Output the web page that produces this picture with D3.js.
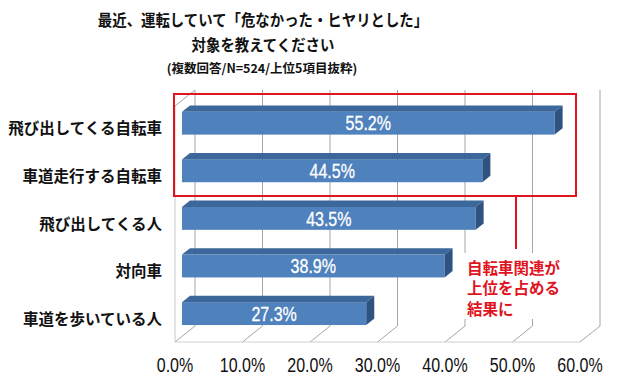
<!DOCTYPE html>
<html>
<head>
<meta charset="utf-8">
<script src="https://cdn.jsdelivr.net/npm/d3@7"></script>
<style>
  body { margin: 0; background: #fff; }
  .jp { font-family: "Noto Sans CJK JP", sans-serif; font-weight: bold; }
  .num { font-family: "Liberation Sans", Arial, sans-serif; }
</style>
</head>
<body>
<svg id="chart" width="640" height="380"></svg>
<script>
// values
const categories = ["飛び出してくる自転車", "車道走行する自転車", "飛び出してくる人", "対向車", "車道を歩いている人"];
const values = [55.2, 44.5, 43.5, 38.9, 27.3];
const ticks = [0, 10, 20, 30, 40, 50, 60];
const titleLines = ["最近、運転していて「危なかった・ヒヤリとした」", "対象を教えてください"];
const subTitle = "(複数回答/N=524/上位5項目抜粋)";
const noteLines = ["自転車関連が", "上位を占める", "結果に"];

const svg = d3.select("#chart");

// front plane of the 3d box
const x = d3.scaleLinear().domain([0, 60]).range([175, 580]);
const y = d3.scaleBand().domain(categories).range([105, 343]).paddingInner(0.52).paddingOuter(0.26);
const depth = { dx: 20, dy: -16 };
const floorY = 342;
const wallTop = 90;
const narrow = 0.8; // squeeze numbers like a narrow font

const grid = svg.append("g");

// back wall gridlines
grid.selectAll("line.back")
  .data(ticks)
  .enter()
  .append("line")
  .attr("x1", d => x(d) + depth.dx)
  .attr("x2", d => x(d) + depth.dx)
  .attr("y1", wallTop)
  .attr("y2", floorY + depth.dy)
  .attr("stroke", "#a6a6a6")
  .attr("stroke-width", 1);

// floor diagonals
grid.selectAll("line.floor")
  .data(ticks)
  .enter()
  .append("line")
  .attr("x1", d => x(d) + depth.dx)
  .attr("x2", d => x(d))
  .attr("y1", floorY + depth.dy)
  .attr("y2", floorY)
  .attr("stroke", "#a6a6a6")
  .attr("stroke-width", 1);

// floor front edge + left wall
grid.append("line")
  .attr("x1", x(0)).attr("x2", x(60))
  .attr("y1", floorY).attr("y2", floorY)
  .attr("stroke", "#d0d0d0");
grid.append("line")
  .attr("x1", x(0)).attr("x2", x(0))
  .attr("y1", wallTop - depth.dy).attr("y2", floorY)
  .attr("stroke", "#c8c8c8");
grid.append("line")
  .attr("x1", x(0)).attr("x2", x(0) + depth.dx)
  .attr("y1", wallTop - depth.dy).attr("y2", wallTop)
  .attr("stroke", "#a6a6a6");

// bars sit in the middle of the depth
const f0 = 0.35, f1 = 0.75;
const ox = depth.dx * f0, oy = depth.dy * f0;
const bx = depth.dx * (f1 - f0), by = depth.dy * (f1 - f0);
const barH = y.bandwidth();

const bars = svg.selectAll("g.bar")
  .data(values)
  .enter()
  .append("g")
  .attr("class", "bar");

bars.append("rect")
  .attr("x", x(0) + ox)
  .attr("y", (d, i) => y(categories[i]) + oy)
  .attr("width", d => x(d) - x(0))
  .attr("height", barH)
  .attr("fill", "#4f81bd");

// top face
bars.append("path")
  .attr("fill", "#3c679b")
  .attr("d", (d, i) => {
    const x0 = x(0) + ox, x1 = x(d) + ox, y0 = y(categories[i]) + oy;
    return `M${x0},${y0}L${x0 + bx},${y0 + by}L${x1 + bx},${y0 + by}L${x1},${y0}Z`;
  });

// side face
bars.append("path")
  .attr("fill", "#2f5381")
  .attr("d", (d, i) => {
    const x1 = x(d) + ox, y0 = y(categories[i]) + oy;
    return `M${x1},${y0}L${x1 + bx},${y0 + by}L${x1 + bx},${y0 + by + barH}L${x1},${y0 + barH}Z`;
  });

// value labels
bars.append("text")
  .attr("class", "num")
  .attr("transform", (d, i) =>
    `translate(${(x(0) + x(d)) / 2 + ox},${y(categories[i]) + oy + barH / 2}) scale(${narrow},1)`)
  .attr("dy", "0.36em")
  .attr("text-anchor", "middle")
  .attr("fill", "#fff")
  .attr("stroke", "#fff")
  .attr("stroke-width", 0.3)
  .attr("font-size", 20)
  .text(d => d.toFixed(1) + "%");

// category labels
svg.selectAll("text.cat")
  .data(categories)
  .enter()
  .append("text")
  .attr("class", "jp")
  .attr("x", 162)
  .attr("y", d => y(d) + barH / 2)
  .attr("dy", "0.36em")
  .attr("text-anchor", "end")
  .attr("font-size", 15.5)
  .attr("fill", "#111")
  .text(d => d);

// tick labels
svg.selectAll("text.tick")
  .data(ticks)
  .enter()
  .append("text")
  .attr("class", "num")
  .attr("transform", d => `translate(${x(d)},364.5) scale(${narrow},1)`)
  .attr("dy", "0.36em")
  .attr("text-anchor", "middle")
  .attr("font-size", 20)
  .attr("fill", "#111")
  .text(d => d.toFixed(1) + "%");

// title
svg.selectAll("text.title")
  .data(titleLines)
  .enter()
  .append("text")
  .attr("class", "jp")
  .attr("transform", (d, i) => `translate(263,${20 + i * 25}) scale(0.9,1)`)
  .attr("dy", "0.36em")
  .attr("text-anchor", "middle")
  .attr("font-size", 16)
  .attr("fill", "#111")
  .text(d => d);

svg.append("text")
  .attr("class", "jp")
  .attr("x", 262)
  .attr("y", 68)
  .attr("dy", "0.36em")
  .attr("text-anchor", "middle")
  .attr("font-size", 12.5)
  .attr("fill", "#111")
  .text(subTitle);

// red highlight box around the bicycle rows
const red = "#e0141e";
svg.append("rect")
  .attr("x", 174)
  .attr("y", 94)
  .attr("width", 402)
  .attr("height", 102)
  .attr("fill", "none")
  .attr("stroke", red)
  .attr("stroke-width", 2);

svg.append("line")
  .attr("x1", 516).attr("x2", 516)
  .attr("y1", 196).attr("y2", 249)
  .attr("stroke", red)
  .attr("stroke-width", 2);

svg.append("rect")
  .attr("x", 462)
  .attr("y", 253)
  .attr("width", 104)
  .attr("height", 66)
  .attr("fill", "#fff");

svg.selectAll("text.note")
  .data(noteLines)
  .enter()
  .append("text")
  .attr("class", "jp")
  .attr("x", 467)
  .attr("y", (d, i) => 268 + i * 20.5)
  .attr("dy", "0.36em")
  .attr("font-size", 15.5)
  .attr("fill", red)
  .text(d => d);
</script>
</body>
</html>
